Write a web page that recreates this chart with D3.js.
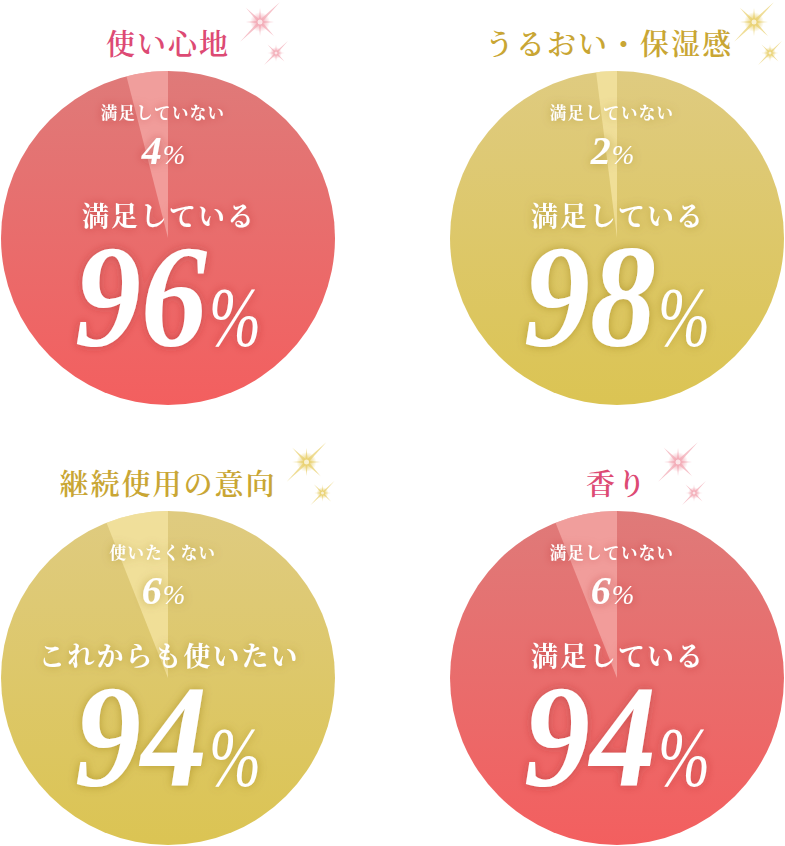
<!DOCTYPE html>
<html><head><meta charset="utf-8">
<script src="https://cdn.jsdelivr.net/npm/d3@7"></script>
<style>
html,body{margin:0;padding:0;background:#fff;}
svg{display:block;}
</style></head>
<body>
<script>
// ---- data ----
const titles = ["使い心地", "うるおい・保湿感", "継続使用の意向", "香り"];
const positiveLabels = ["満足している", "満足している", "これからも使いたい", "満足している"];
const negativeLabels = ["満足していない", "満足していない", "使いたくない", "満足していない"];
const positiveValues = [96, 98, 94, 94];
const negativeValues = [4, 2, 6, 6];
const themes = ["pink", "gold", "gold", "pink"];

// ---- styles ----
const palette = {
  pink: {top: "#df7a79", bottom: "#f35f5f", wedge: "#f6aba8", wedgeOp: 0.75, title: "#dd4a74", shadow: "#a02a2a", star: "#f2a6b2"},
  gold: {top: "#dfcb80", bottom: "#dbc453", wedge: "#f6e6a4", wedgeOp: 0.75, title: "#c9a634", shadow: "#8a6c10", star: "#e8cf6a"}
};
const W = 785, H = 846, R = 167;
const jp = "'Noto Serif CJK JP','Noto Sans CJK JP',sans-serif";
const num = "'Liberation Serif','Times New Roman',serif";

const svg = d3.select("body").append("svg").attr("width", W).attr("height", H);
const defs = svg.append("defs");

Object.entries(palette).forEach(([k, p]) => {
  const g = defs.append("linearGradient").attr("id", "grad-" + k)
    .attr("x1", 0).attr("y1", 0).attr("x2", 0).attr("y2", 1);
  g.append("stop").attr("offset", "0%").attr("stop-color", p.top);
  g.append("stop").attr("offset", "100%").attr("stop-color", p.bottom);
  const f = defs.append("filter").attr("id", "sh-" + k)
    .attr("x", "-30%").attr("y", "-30%").attr("width", "160%").attr("height", "160%");
  f.append("feGaussianBlur").attr("in", "SourceAlpha").attr("stdDeviation", 5).attr("result", "b");
  f.append("feFlood").attr("flood-color", p.shadow).attr("flood-opacity", 0.45);
  f.append("feComposite").attr("in2", "b").attr("operator", "in").attr("result", "s");
  const m = f.append("feMerge");
  m.append("feMergeNode").attr("in", "s");
  m.append("feMergeNode").attr("in", "SourceGraphic");
  const rg = defs.append("radialGradient").attr("id", "glow-" + k);
  rg.append("stop").attr("offset", "0%").attr("stop-color", "#fff").attr("stop-opacity", 0.9);
  rg.append("stop").attr("offset", "30%").attr("stop-color", p.star).attr("stop-opacity", 0.8);
  rg.append("stop").attr("offset", "100%").attr("stop-color", p.star).attr("stop-opacity", 0);
});

const xPos = d3.scalePoint().domain([0, 1]).range([168, 617]);
const yPos = d3.scalePoint().domain([0, 1]).range([238, 678]);
const pie = d3.pie().sort(null).value(d => d.v);
const arc = d3.arc().innerRadius(0).outerRadius(R);

function sparkle(g, x, y, s, k) {
  const p = palette[k];
  const sg = g.append("g").attr("transform", `translate(${x},${y}) scale(${s})`);
  sg.append("circle").attr("r", 10).attr("fill", `url(#glow-${k})`);
  const rays = [[-45, 28], [135, 28], [45, 20], [-135, 20], [0, 14], [90, 14], [180, 14], [270, 14]];
  rays.forEach(([a, L]) => {
    const w = L > 15 ? 1.6 : 1.3;
    sg.append("path")
      .attr("d", `M0,${-w} L${L},0 L0,${w} Z`)
      .attr("transform", `rotate(${a})`)
      .attr("fill", p.star).attr("opacity", 0.7);
  });
  sg.append("circle").attr("r", 2.5).attr("fill", "#fff").attr("opacity", 0.7);
}

titles.forEach((t, i) => {
  const k = themes[i], p = palette[k];
  const cx = xPos(i % 2), cy = yPos(Math.floor(i / 2));
  const g = svg.append("g");
  const data = [{v: positiveValues[i]}, {v: negativeValues[i]}];
  const arcs = pie(data);
  const cg = g.append("g").attr("transform", `translate(${cx},${cy})`);
  cg.append("circle").attr("r", R).attr("fill", `url(#grad-${k})`);
  cg.selectAll("path.wedge").data(arcs.slice(1)).join("path")
    .attr("class", "wedge").attr("d", arc)
    .attr("fill", p.wedge).attr("opacity", p.wedgeOp);

  // title + sparkles (kept inside the page)
  const tt = g.append("text").attr("y", cy - 183)
    .attr("text-anchor", "middle").attr("font-family", jp).attr("font-size", 29)
    .attr("font-weight", 600)
    .attr("letter-spacing", 2).attr("fill", p.title).text(t);
  const tw = tt.node().getComputedTextLength();
  const sx = Math.min(cx + tw / 2 + 30, W - 31);
  const right = Math.min(cx + tw / 2, sx - 21);
  tt.attr("x", right - tw / 2);
  sparkle(g, sx, cy - 216, 1.0, k);
  sparkle(g, sx + 16, cy - 185, 0.6, k);

  const lg = g.append("g").attr("filter", `url(#sh-${k})`).attr("fill", "#fff");
  // negative label
  lg.append("text").attr("x", cx - 5).attr("y", cy - 119)
    .attr("text-anchor", "middle").attr("font-family", jp).attr("font-weight", 700)
    .attr("font-size", 16.5).attr("letter-spacing", 1.3).text(negativeLabels[i]);
  // small percent
  const sp = lg.append("text").attr("y", cy - 74).attr("font-family", num);
  sp.append("tspan").attr("font-size", 40).attr("font-weight", 700).attr("font-style", "italic").text(negativeValues[i]);
  sp.append("tspan").attr("font-size", 27).attr("font-style", "italic").attr("dx", 1).text("%");
  const spw = sp.node().getComputedTextLength();
  sp.attr("x", cx - 5 - spw / 2);

  // positive label
  lg.append("text").attr("x", cx + 1).attr("y", cy - 12)
    .attr("text-anchor", "middle").attr("font-family", jp).attr("font-weight", 700)
    .attr("font-size", 27).attr("letter-spacing", 2).text(positiveLabels[i]);

  // big percent
  const bigY = cy + 108;
  const bd = lg.append("text").attr("y", bigY).attr("font-family", num)
    .attr("font-size", 146).attr("font-weight", 700).attr("font-style", "italic")
    .attr("textLength", 132).attr("lengthAdjust", "spacingAndGlyphs")
    .text(positiveValues[i]);
  const bp = lg.append("text").attr("y", bigY).attr("font-family", num)
    .attr("font-size", 84).attr("font-style", "italic")
    .attr("textLength", 52).attr("lengthAdjust", "spacingAndGlyphs").text("%");
  const x0 = cx - 93;
  bd.attr("x", x0);
  bp.attr("x", x0 + 134);
});
</script>
</body></html>
